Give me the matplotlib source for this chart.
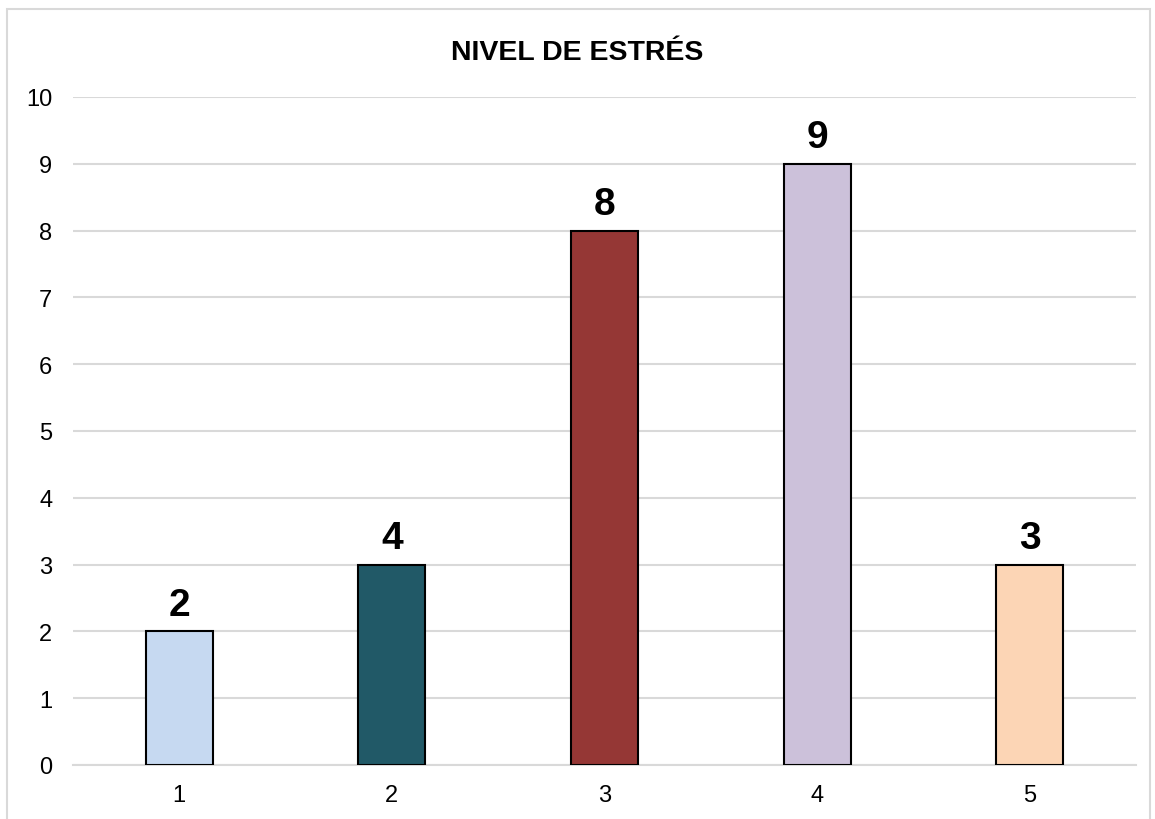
import matplotlib
matplotlib.use("Agg")
import matplotlib.pyplot as plt
from matplotlib.patches import Rectangle

categories = ["1", "2", "3", "4", "5"]
values = [2, 3, 8, 9, 3]
value_labels = ["2", "4", "8", "9", "3"]
colors = ["#C6D9F1", "#215967", "#953735", "#CCC1DA", "#FCD5B5"]
title = "NIVEL DE ESTRÉS"

plt.rcParams['font.family'] = ['Liberation Sans', 'DejaVu Sans']

W, H = 1155, 820
fig = plt.figure(figsize=(W / 100, H / 100), dpi=100)

# outer chart border (top, left, right visible)
fig.add_artist(Rectangle((7 / W, -0.05), (1150 - 7) / W, 1.05 - 10 / H,
                         transform=fig.transFigure, fill=False,
                         edgecolor="#D9D9D9", linewidth=1.5))

left, right = 73 / W, 1136 / W
bottom, top = 1 - 766 / H, 1 - 98 / H
ax = fig.add_axes([left, bottom, right - left, top - bottom])

x = range(len(categories))
bars = ax.bar(x, values, width=0.315, color=colors, edgecolor="black",
              linewidth=1.5, zorder=3)
ax.set_xlim(-0.5, len(categories) - 0.5)
ax.set_ylim(0, 10)
ax.set_yticks(range(0, 11))
ax.set_xticks(list(x))
ax.set_xticklabels(categories)
ax.tick_params(axis="both", length=0, labelsize=17, colors="#000000")
ax.tick_params(axis="x", pad=14)
ax.tick_params(axis="y", pad=15)
ax.grid(axis="y", color="#D9D9D9", linewidth=1.5, zorder=0)
for s in ["top", "right", "left"]:
    ax.spines[s].set_visible(False)
ax.spines["bottom"].set_color("#D9D9D9")
ax.spines["bottom"].set_linewidth(1.5)

for b, lab in zip(bars, value_labels):
    ax.annotate(lab, (b.get_x() + b.get_width() / 2, b.get_height()),
                xytext=(0, 6), textcoords="offset points",
                ha="center", va="bottom", fontsize=28, fontweight="bold")

fig.text(0.5, 1 - 53 / H, title, ha="center", va="center",
         fontsize=20.5, fontweight="bold")

fig.savefig("out.png", dpi=100)
